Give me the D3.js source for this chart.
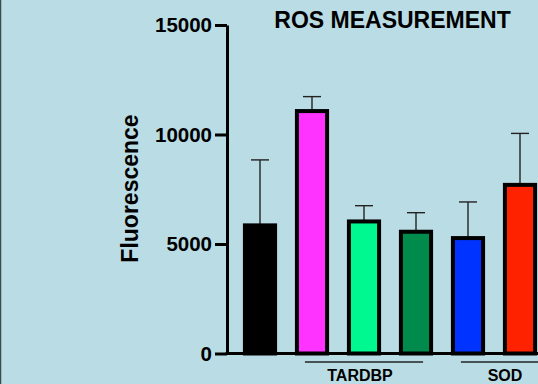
<!DOCTYPE html>
<html>
<head>
<meta charset="utf-8">
<script src="https://cdn.jsdelivr.net/npm/d3@7"></script>
<style>
  body { margin: 0; background: #badde5; }
  svg { display: block; font-family: "Liberation Sans", Arial, Helvetica, sans-serif; font-weight: bold; }
</style>
</head>
<body>
<svg id="chart" width="538" height="384"></svg>
<script>
// data
var categories = ['Control', 'TARDBP 1', 'TARDBP 2', 'TARDBP 3', 'SOD 1', 'SOD 2'];
var means = [5850, 11070, 6030, 5560, 5270, 7700];
var errors = [2990, 660, 720, 870, 1650, 2350]; // error bar length above the mean
var colors = ['#000000', '#ff33ff', '#00f890', '#008a4c', '#0033ff', '#ff2200'];
var yTicks = [0, 5000, 10000, 15000];
var groups = [{label: 'TARDBP', from: 1, to: 3}, {label: 'SOD', from: 4, to: 6}];

var W = 538, H = 384;
var svg = d3.select("#chart");

// background + left frame line
svg.append("rect").attr("width", W).attr("height", H).attr("fill", "#badde5");
svg.append("line").attr("x1", 0.5).attr("x2", 0.5).attr("y1", 0).attr("y2", H)
  .attr("stroke", "#3e4c52").attr("stroke-width", 1.5);

var axisX = 227, yBase = 353.5, yTop = 25;

var x = d3.scaleBand()
  .domain(categories)
  .range([234, 546])
  .paddingInner(0.42)
  .paddingOuter(0.21);

var y = d3.scaleLinear()
  .domain([0, 15000])
  .range([yBase, yTop]);

// error bars (upper only)
var cap = 18;
var eb = svg.append("g").attr("stroke", "#222").attr("stroke-width", 1.4);
categories.forEach(function(c, i) {
  var cx = x(c) + x.bandwidth() / 2;
  eb.append("line").attr("x1", cx).attr("x2", cx)
    .attr("y1", y(means[i])).attr("y2", y(means[i] + errors[i]));
  eb.append("line").attr("x1", cx - cap / 2).attr("x2", cx + cap / 2)
    .attr("y1", y(means[i] + errors[i])).attr("y2", y(means[i] + errors[i]));
});

// bars
svg.selectAll("rect.bar")
  .data(means)
  .enter()
  .append("rect")
  .attr("class", "bar")
  .attr("x", function(d, i) { return x(categories[i]); })
  .attr("y", function(d) { return y(d); })
  .attr("width", x.bandwidth())
  .attr("height", function(d) { return yBase - y(d); })
  .attr("fill", function(d, i) { return colors[i]; })
  .attr("stroke", "#000")
  .attr("stroke-width", 4);

// y axis
var yAxis = svg.append("g")
  .attr("transform", "translate(" + axisX + ",0)")
  .call(d3.axisLeft(y).tickValues(yTicks).tickFormat(d3.format("d")).tickSize(12).tickSizeOuter(0).tickPadding(3));
yAxis.select(".domain").attr("stroke", "#000").attr("stroke-width", 3);
yAxis.selectAll(".tick line").attr("stroke", "#000").attr("stroke-width", 3);
yAxis.selectAll(".tick text")
  .attr("fill", "#000")
  .style("font-size", "20.5px")
  .style("font-weight", "bold")
  .style("font-family", "'Liberation Sans', Arial, sans-serif");

// x axis baseline
svg.append("line")
  .attr("x1", axisX - 1.5).attr("x2", W)
  .attr("y1", yBase).attr("y2", yBase)
  .attr("stroke", "#000").attr("stroke-width", 3);

// group lines + labels
groups.forEach(function(g) {
  var first = categories[g.from];
  var x1 = x(first) + 8;
  var last = categories[g.to];
  var x2 = last ? x(last) + x.bandwidth() - 8 : W;
  // label sits under the visible part of the group
  var lx = last ? (x1 + x2) / 2 - 4 : (x(first) + x.bandwidth() / 2 + W) / 2 + 2;
  svg.append("line")
    .attr("x1", x1).attr("x2", x2)
    .attr("y1", 362).attr("y2", 362)
    .attr("stroke", "#222").attr("stroke-width", 1.3);
  svg.append("text")
    .attr("x", lx)
    .attr("y", 380.5)
    .attr("text-anchor", "middle")
    .style("font-size", "16px")
    .text(g.label);
});

// y label
svg.append("text")
  .attr("transform", "translate(138,188.5) rotate(-90)")
  .attr("text-anchor", "middle")
  .style("font-size", "23px")
  .text("Fluorescence");

// title
svg.append("text")
  .attr("x", 392.5)
  .attr("y", 27.5)
  .attr("text-anchor", "middle")
  .style("font-size", "23px")
  .text("ROS MEASUREMENT");
</script>
</body>
</html>
